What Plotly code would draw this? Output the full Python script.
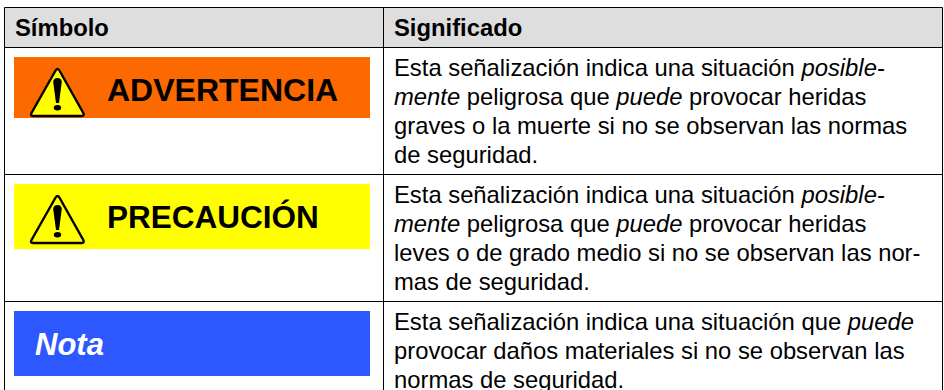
import plotly.graph_objects as go

W, H = 944, 390
FONT = "Liberation Sans"

headers = ["Símbolo", "Significado"]
labels = ["ADVERTENCIA", "PRECAUCIÓN", "Nota"]
label_sizes = [32, 31.5, 31]
label_colors = ["#000000", "#000000", "#FFFFFF"]
band_colors = ["#FB6900", "#FFFF00", "#2D57FF"]
triangle_fills = ["#FFFF00", "#FFFF00", None]
row_lines = [47.5, 174.5, 301.5]
band_tops = [57, 184, 311]
band_bottoms = [118, 249, 376]
meanings = [
    ["Esta señalización indica una situación <i>posible-</i>",
     "<i>mente</i> peligrosa que <i>puede</i> provocar heridas",
     "graves o la muerte si no se observan las normas",
     "de seguridad."],
    ["Esta señalización indica una situación <i>posible-</i>",
     "<i>mente</i> peligrosa que <i>puede</i> provocar heridas",
     "leves o de grado medio si no se observan las nor-",
     "mas de seguridad."],
    ["Esta señalización indica una situación que <i>puede</i>",
     "provocar daños materiales si no se observan las",
     "normas de seguridad."],
]

LEFT, MID, RIGHT, TOP = 4.5, 383.5, 942.5, 7.5
BAND_L, BAND_R = 14, 370
BODY_SIZE = 23.8
shapes, annotations = [], []


def rect(x0, y0, x1, y1, fill):
    shapes.append(dict(type="rect", xref="x", yref="y", x0=x0, y0=y0, x1=x1, y1=y1,
                       fillcolor=fill, line_width=0, layer="below"))


def line(x0, y0, x1, y1):
    shapes.append(dict(type="line", xref="x", yref="y", x0=x0, y0=y0, x1=x1, y1=y1,
                       line=dict(color="#000000", width=1)))


def text(x, y, s, size, color="#000000"):
    annotations.append(dict(x=x, y=y, xref="x", yref="y", text=s, showarrow=False,
                            xanchor="left", yanchor="middle", align="left",
                            font=dict(family=FONT, size=size, color=color)))


rect(LEFT, TOP, RIGHT, row_lines[0], "#DEDEDE")
for y in [TOP] + row_lines:
    line(LEFT, y, RIGHT, y)
for x in (LEFT, MID, RIGHT):
    line(x, TOP, x, H)

text(13, 27, f"<b>{headers[0]}</b>", BODY_SIZE)
text(392, 27, f"<b>{headers[1]}</b>", BODY_SIZE)

for i, lab in enumerate(labels):
    rect(BAND_L, band_tops[i], BAND_R, band_bottoms[i], band_colors[i])
    t = band_tops[i]
    if triangle_fills[i]:
        shapes.append(dict(type="path", xref="x", yref="y",
                           path=(f"M 55.3 {t+14} Q 57.5 {t+10} 59.7 {t+14} "
                                 f"L 83.3 {t+56} Q 84.8 {t+59} 81.3 {t+59} "
                                 f"L 33.5 {t+59} Q 30 {t+59} 31.5 {t+56} Z"),
                           fillcolor=triangle_fills[i],
                           line=dict(color="#000000", width=2.4)))
        shapes.append(dict(type="path", xref="x", yref="y",
                           path=(f"M 53.2 {t+25} Q 53.5 {t+21} 57.5 {t+21} "
                                 f"Q 61.5 {t+21} 61.8 {t+25} L 59 {t+46} L 56 {t+46} Z"),
                           fillcolor="#000000", line_width=0))
        shapes.append(dict(type="circle", xref="x", yref="y", x0=53.8, x1=61.2,
                           y0=t+48, y1=t+53.5, fillcolor="#000000", line_width=0))
        text(105, t + 33, f"<b>{lab}</b>", label_sizes[i], label_colors[i])
    else:
        text(33, t + 33, f"<b><i>{lab}</i></b>", label_sizes[i], label_colors[i])

LINE_H = 29
first_y = [67.5, 194.5, 321]
for i, block in enumerate(meanings):
    for j, s in enumerate(block):
        text(392, first_y[i] + j * LINE_H, s, BODY_SIZE)

fig = go.Figure()
fig.add_trace(go.Scatter(x=[0, W], y=[0, H], mode="markers", marker_opacity=0,
                         hoverinfo="skip", showlegend=False))
fig.update_layout(width=W, height=H, margin=dict(l=0, r=0, t=0, b=0),
                  paper_bgcolor="#FFFFFF", plot_bgcolor="#FFFFFF",
                  shapes=shapes, annotations=annotations)
fig.update_xaxes(range=[0, W], visible=False, fixedrange=True)
fig.update_yaxes(range=[H, 0], visible=False, fixedrange=True)
fig.write_html("out.html", config={"displayModeBar": False},
               post_script="document.body.style.margin='0';document.body.style.overflow='hidden';")
